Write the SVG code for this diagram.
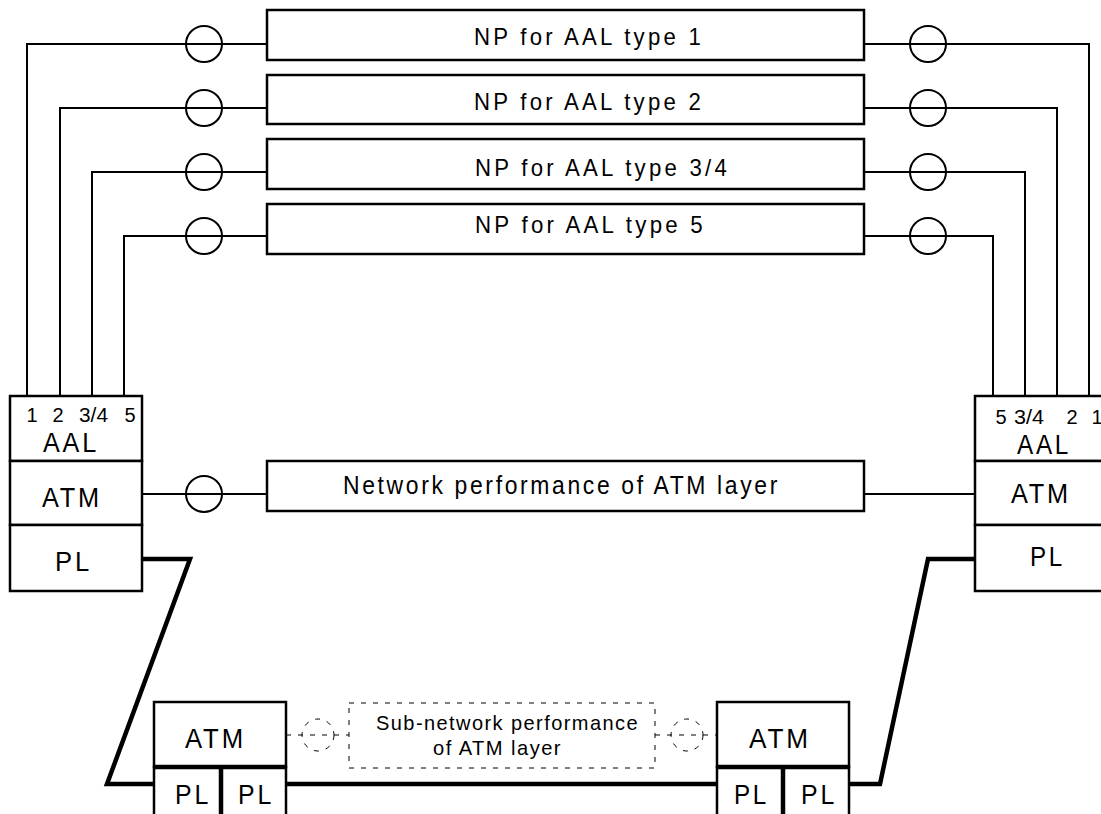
<svg xmlns="http://www.w3.org/2000/svg" width="1101" height="814" viewBox="0 0 1101 814">
<style>
.box{fill:#fff;stroke:#000;stroke-width:2.5}
.thin{fill:none;stroke:#000;stroke-width:2}
.thick{fill:none;stroke:#000;stroke-width:4.5}
.ring{fill:none;stroke:#000;stroke-width:2}
.dash{fill:none;stroke:#000;stroke-width:1;stroke-dasharray:5 7}
text{font-family:"Liberation Sans",Arial,sans-serif;fill:#000}
.np{font-size:24px;letter-spacing:3.5px}
.net{font-size:26px;letter-spacing:3px}
.lay{font-size:27px;letter-spacing:3px}
.num{font-size:20px}
.sub{font-size:21px;letter-spacing:1.5px}
</style>
<rect width="1101" height="814" fill="#fff"/>
<g id="connectors">
<polyline class="thin" points="27,396 27,44 267,44"/>
<polyline class="thin" points="60,396 60,108 267,108"/>
<polyline class="thin" points="92,396 92,172 267,172"/>
<polyline class="thin" points="124,396 124,236 267,236"/>
<polyline class="thin" points="864,44 1089,44 1089,396"/>
<polyline class="thin" points="864,108 1057,108 1057,396"/>
<polyline class="thin" points="864,172 1025,172 1025,396"/>
<polyline class="thin" points="864,236 993,236 993,396"/>
<line class="thin" x1="142" y1="494" x2="267" y2="494"/>
<line class="thin" x1="864" y1="494" x2="975" y2="494"/>
<circle class="ring" cx="204" cy="44" r="18"/>
<circle class="ring" cx="204" cy="108" r="18"/>
<circle class="ring" cx="204" cy="172" r="18"/>
<circle class="ring" cx="204" cy="236" r="18"/>
<circle class="ring" cx="928" cy="44" r="18"/>
<circle class="ring" cx="928" cy="108" r="18"/>
<circle class="ring" cx="928" cy="172" r="18"/>
<circle class="ring" cx="928" cy="236" r="18"/>
<circle class="ring" cx="204" cy="494" r="18"/>
<polyline class="thick" points="138,559 190,559 107,784 157,784"/>
<polyline class="thick" points="977,559 928,559 880,784 847,784"/>
<line class="thick" x1="286" y1="784" x2="719" y2="784"/>
<line class="dash" x1="286" y1="735" x2="349" y2="735"/>
<line class="dash" x1="655" y1="735" x2="717" y2="735"/>
<circle class="dash" cx="318" cy="735" r="16"/>
<circle class="dash" cx="687" cy="735" r="16"/>
</g>
<g id="np1">
<rect class="box" x="267" y="10" width="597" height="50"/>
<text class="np" x="474" y="45" textLength="230" lengthAdjust="spacingAndGlyphs">NP for AAL type 1</text>
</g>
<g id="np2">
<rect class="box" x="267" y="75" width="597" height="49"/>
<text class="np" x="474" y="110" textLength="230" lengthAdjust="spacingAndGlyphs">NP for AAL type 2</text>
</g>
<g id="np34">
<rect class="box" x="267" y="139" width="597" height="50"/>
<text class="np" x="475" y="176" textLength="255" lengthAdjust="spacingAndGlyphs">NP for AAL type 3/4</text>
</g>
<g id="np5">
<rect class="box" x="267" y="204" width="597" height="50"/>
<text class="np" x="475" y="233" textLength="231" lengthAdjust="spacingAndGlyphs">NP for AAL type 5</text>
</g>
<g id="npatm">
<rect class="box" x="267" y="461" width="597" height="50"/>
<text class="net" x="343" y="494" textLength="437" lengthAdjust="spacingAndGlyphs">Network performance of ATM layer</text>
</g>
<g id="left-stack">
<rect class="box" x="10" y="396" width="132" height="65"/>
<rect class="box" x="10" y="461" width="132" height="64"/>
<rect class="box" x="10" y="525" width="132" height="66"/>
<text class="num" x="32" y="422" text-anchor="middle">1</text>
<text class="num" x="58" y="422" text-anchor="middle">2</text>
<text class="num" x="79" y="422" textLength="29" lengthAdjust="spacingAndGlyphs">3/4</text>
<text class="num" x="130" y="422" text-anchor="middle">5</text>
<text class="lay" x="43" y="452" textLength="56" lengthAdjust="spacingAndGlyphs">AAL</text>
<text class="lay" x="42" y="507" textLength="60" lengthAdjust="spacingAndGlyphs">ATM</text>
<text class="lay" x="55" y="571" textLength="37" lengthAdjust="spacingAndGlyphs">PL</text>
</g>
<g id="right-stack">
<rect class="box" x="975" y="396" width="132" height="65"/>
<rect class="box" x="975" y="461" width="132" height="64"/>
<rect class="box" x="975" y="525" width="132" height="66"/>
<text class="num" x="1001" y="424" text-anchor="middle">5</text>
<text class="num" x="1014" y="424" textLength="30" lengthAdjust="spacingAndGlyphs">3/4</text>
<text class="num" x="1072" y="424" text-anchor="middle">2</text>
<text class="num" x="1097" y="424" text-anchor="middle">1</text>
<text class="lay" x="1017" y="454" textLength="54" lengthAdjust="spacingAndGlyphs">AAL</text>
<text class="lay" x="1011" y="503" textLength="60" lengthAdjust="spacingAndGlyphs">ATM</text>
<text class="lay" x="1030" y="566" textLength="35" lengthAdjust="spacingAndGlyphs">PL</text>
</g>
<g id="sw-left">
<rect class="box" x="154" y="702" width="132" height="65"/>
<rect class="box" x="154" y="767" width="67" height="60"/>
<rect class="box" x="221" y="767" width="65" height="60"/>
<line class="thick" x1="154" y1="767" x2="286" y2="767"/>
<line class="thick" x1="221" y1="767" x2="221" y2="814"/>
<text class="lay" x="185" y="748" textLength="61" lengthAdjust="spacingAndGlyphs">ATM</text>
<text class="lay" x="175" y="804" textLength="36" lengthAdjust="spacingAndGlyphs">PL</text>
<text class="lay" x="238" y="804" textLength="36" lengthAdjust="spacingAndGlyphs">PL</text>
</g>
<g id="sw-right">
<rect class="box" x="717" y="702" width="132" height="65"/>
<rect class="box" x="717" y="767" width="66" height="60"/>
<rect class="box" x="783" y="767" width="66" height="60"/>
<line class="thick" x1="717" y1="767" x2="849" y2="767"/>
<line class="thick" x1="783" y1="767" x2="783" y2="814"/>
<text class="lay" x="749" y="748" textLength="62" lengthAdjust="spacingAndGlyphs">ATM</text>
<text class="lay" x="734" y="804" textLength="35" lengthAdjust="spacingAndGlyphs">PL</text>
<text class="lay" x="801" y="804" textLength="36" lengthAdjust="spacingAndGlyphs">PL</text>
</g>
<g id="subnet">
<rect class="dash" x="349" y="703" width="306" height="65"/>
<text class="sub" x="376" y="730" textLength="263" lengthAdjust="spacingAndGlyphs">Sub-network performance</text>
<text class="sub" x="433" y="755" textLength="129" lengthAdjust="spacingAndGlyphs">of ATM layer</text>
</g>
</svg>
